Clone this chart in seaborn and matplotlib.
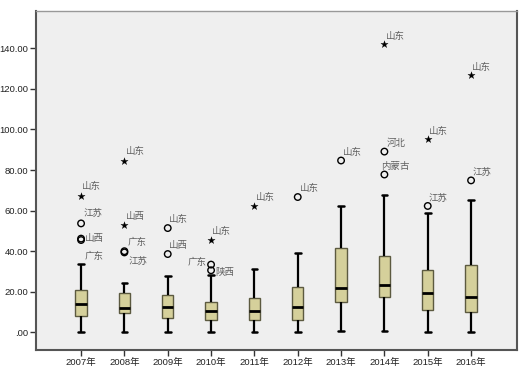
import matplotlib
matplotlib.use("Agg")
import matplotlib.pyplot as plt
import seaborn as sns
import pandas as pd
from matplotlib.ticker import FuncFormatter

# ---- data ----
years = ["2007年", "2008年", "2009年", "2010年", "2011年",
         "2012年", "2013年", "2014年", "2015年", "2016年"]
whisker_low = [0.0, 0.0, 0.0, 0.0, 0.0, 0.0, 0.6, 0.8, 0.1, 0.0]
q1 = [8.0, 9.4, 7.2, 6.1, 6.3, 6.1, 14.8, 17.4, 11.0, 10.2]
median = [13.8, 11.8, 12.3, 10.5, 10.7, 12.5, 22.0, 23.2, 19.5, 17.2]
q3 = [20.7, 19.6, 18.4, 14.9, 17.1, 22.3, 41.4, 37.8, 30.7, 33.2]
whisker_high = [33.6, 24.3, 27.8, 28.1, 31.0, 39.1, 62.4, 67.6, 59.0, 65.4]

# outliers: year, value, kind (circle = outlier, star = extreme), province label
out_year = ["2007年", "2007年", "2007年", "2007年",
            "2008年", "2008年", "2008年", "2008年",
            "2009年", "2009年",
            "2010年", "2010年", "2010年",
            "2011年", "2012年", "2013年",
            "2014年", "2014年", "2014年",
            "2015年", "2015年",
            "2016年", "2016年"]
out_value = [67.4, 53.7, 46.2, 45.5,
             84.7, 52.9, 40.0, 39.4,
             51.4, 38.6,
             45.5, 33.4, 30.6,
             62.5, 66.7, 84.7,
             141.9, 89.1, 77.8,
             95.1, 62.3,
             126.8, 74.9]
out_kind = ["star", "circle", "circle", "circle",
            "star", "star", "circle", "circle",
            "circle", "circle",
            "star", "circle", "circle",
            "star", "circle", "circle",
            "star", "circle", "circle",
            "star", "circle",
            "star", "circle"]
out_label = ["山东", "江苏", "山西", "广东",
             "山东", "山西", "广东", "江苏",
             "山东", "山西",
             "山东", "广东", "陕西",
             "山东", "山东", "山东",
             "山东", "河北", "内蒙古",
             "山东", "江苏",
             "山东", "江苏"]
y_ticks = [0, 20, 40, 60, 80, 100, 120, 140]

# label placement (pixel offsets from the marker) -- style only
label_offsets = [(1, 9), (2, 10), (4, 0), (4, -16),
                 (2, 9), (2, 9), (3, 9), (4, -9),
                 (1, 9), (1, 9),
                 (1, 9), (-4, 2), (4, -2),
                 (2, 8), (2, 9), (2, 8),
                 (2, 8), (2, 8), (-3, 8),
                 (1, 8), (1, 8),
                 (1, 8), (1, 8)]
label_ha = ["left"] * len(out_label)
label_ha[11] = "right"

# ---- build long-form table: five-number data per year ----
rows = []
for yr, a, b, c, d, e in zip(years, whisker_low, q1, median, q3, whisker_high):
    for v in (a, b, c, d, e):
        rows.append({"year": yr, "value": v})
df = pd.DataFrame(rows)

out_df = pd.DataFrame({"year": out_year, "value": out_value,
                       "kind": out_kind, "label": out_label})
out_df["pos"] = [years.index(y) for y in out_df["year"]]

# ---- figure ----
sns.set_style("white")
plt.rcParams["font.family"] = ["Liberation Sans", "Noto Sans CJK SC", "DejaVu Sans"]

fig = plt.figure(figsize=(5.26, 3.73), dpi=100)
ax = fig.add_axes([36 / 526, 1 - 350 / 373, (517 - 36) / 526, (350 - 11) / 373])
ax.set_facecolor("#efefef")

sns.boxplot(data=df, x="year", y="value", order=years, ax=ax,
            whis=(0, 100), width=0.26, showfliers=False,
            color="#d5d09b", saturation=1, linecolor="black", linewidth=1.0,
            boxprops=dict(facecolor="#d5d09b", edgecolor="#5c5a40", linewidth=1.0),
            whiskerprops=dict(color="black", linewidth=1.6),
            capprops=dict(color="black", linewidth=1.8),
            medianprops=dict(color="black", linewidth=2.0))

circles = out_df[out_df["kind"] == "circle"]
stars = out_df[out_df["kind"] == "star"]
sns.scatterplot(data=circles, x="pos", y="value", ax=ax, marker="o", s=22,
                facecolor="none", edgecolor="black", linewidth=1.0, legend=False)
sns.scatterplot(data=stars, x="pos", y="value", ax=ax, marker="*", s=30,
                color="black", edgecolor="black", linewidth=0.2, legend=False)

for (p, v, lab), (dx, dy), ha in zip(out_df[["pos", "value", "label"]].values,
                                      label_offsets, label_ha):
    ax.annotate(lab, (p, v), xytext=(dx, dy), textcoords="offset pixels",
                ha=ha, va="center", fontsize=6.8, color="#606060",
                family=["Noto Sans CJK SC", "DejaVu Sans"])

ax.set_xlim(-1.04, len(years) - 1 + 1.06)
ax.set_ylim(-8.7, 158.4)
ax.set_yticks(y_ticks)

def fmt(v, _):
    s = f"{v:.2f}"
    return s[1:] if s.startswith("0.") else s

ax.yaxis.set_major_formatter(FuncFormatter(fmt))
ax.set_xticks(range(len(years)))
ax.set_xticklabels(years)
ax.set_xlabel("")
ax.set_ylabel("")

ax.tick_params(axis="both", which="major", direction="out", length=4, width=1.0,
               color="#333333", labelsize=6.8, labelcolor="#222222", pad=1.5,
               left=True, bottom=True)
for name, sp in ax.spines.items():
    sp.set_visible(True)
    sp.set_color("#555555")
    sp.set_linewidth(1.5)
ax.spines["top"].set_color("#999999")
ax.spines["top"].set_linewidth(1.0)

fig.savefig("out.png", dpi=100, facecolor="white")
